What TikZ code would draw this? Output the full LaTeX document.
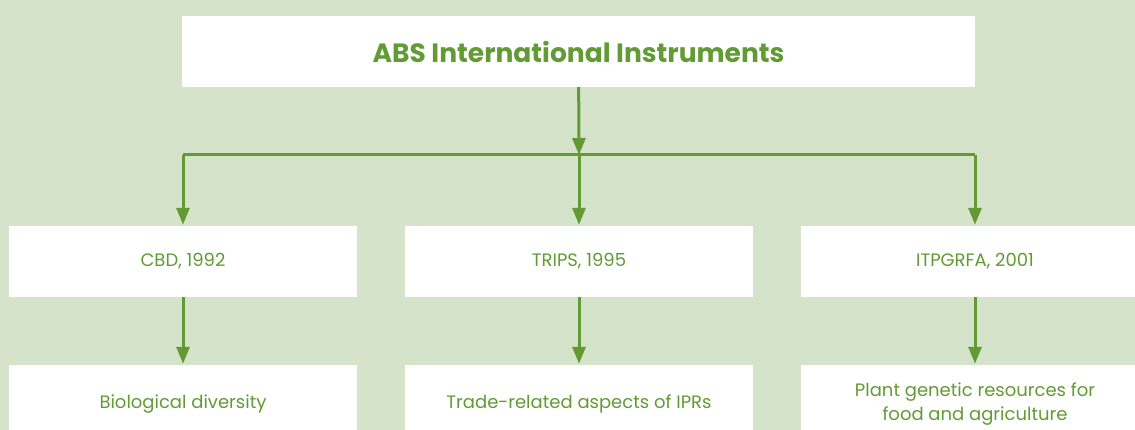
\documentclass[tikz,border=0pt]{standalone}
\usepackage{fontspec}
\setmainfont{Poppins}
\usetikzlibrary{arrows.meta}
\definecolor{absbg}{RGB}{214,227,203}
\definecolor{absgreen}{RGB}{98,155,52}

\begin{document}
\begin{tikzpicture}[x=1pt,y=-1pt,>={Triangle[length=17pt,width=13pt]},
	box/.style={fill=white,inner sep=0pt,minimum height=71pt,text=absgreen,
		align=center,font=\fontsize{18}{23.5}\selectfont},
	link/.style={draw=absgreen,line width=3pt}]
			\clip (0,0) rectangle (1135,430);
			\fill[absbg] (0,0) rectangle (1135,430);

			\node[box,minimum width=793pt,font=\fontsize{26.5}{30}\bfseries] (abs) at (578.5,51.5) {ABS International Instruments};

			\node[box,minimum width=348pt] (cbd) at (183,261.5) {CBD, 1992};
			\node[box,minimum width=348pt] (trips) at (579,261.5) {TRIPS, 1995};
			\node[box,minimum width=348pt] (itp) at (975,261.5) {ITPGRFA, 2001};

			\node[box,minimum width=348pt,minimum height=78pt] (bio) at (183,404) {Biological diversity};
			\node[box,minimum width=348pt,minimum height=78pt] (trade) at (579,404) {Trade-related aspects of IPRs};
			\node[box,minimum width=348pt,minimum height=78pt] (plant) at (975,404) {Plant genetic resources for\\food and agriculture};

			\coordinate (bar) at (579,155);

			\draw[link] (cbd |- bar)--(itp |- bar);
			\draw[link,->] (abs)--(bar);
			\draw[link,->,shorten >=1pt] (cbd |- bar)--(cbd);
			\draw[link,->,shorten >=1pt] (bar)--(trips);
			\draw[link,->,shorten >=1pt] (itp |- bar)--(itp);

			\draw[link,->,shorten >=1pt] (cbd)--(bio);
			\draw[link,->,shorten >=1pt] (trips)--(trade);
			\draw[link,->,shorten >=1pt] (itp)--(plant);
		\end{tikzpicture}
\end{document}
